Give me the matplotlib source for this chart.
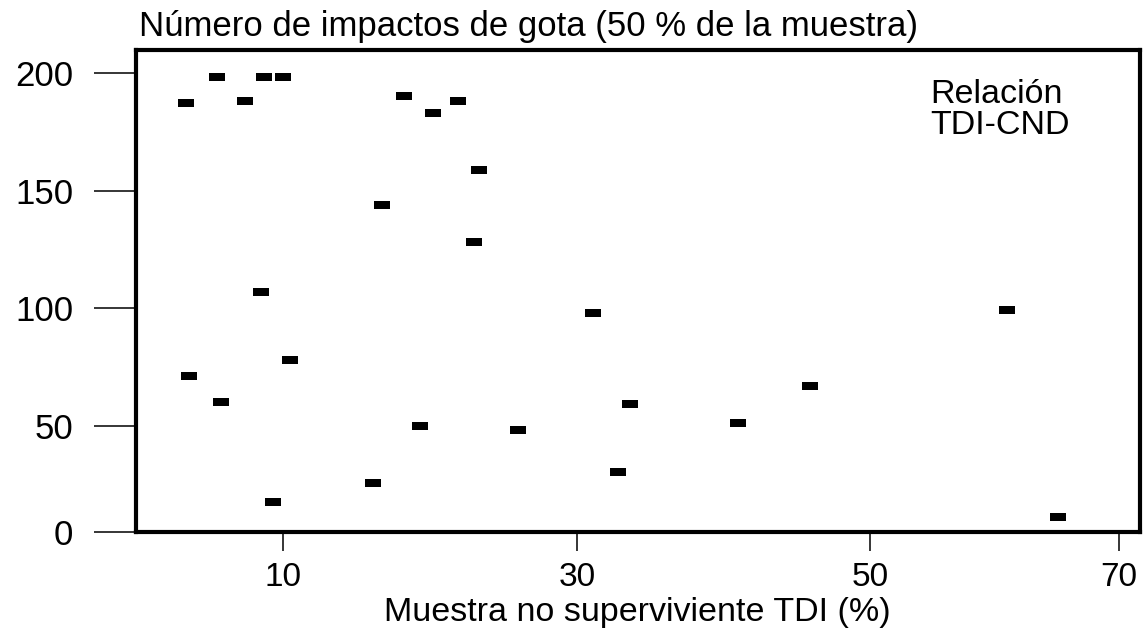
"""
Scatter: drop impacts vs. non-surviving TDI sample (TDI-CND relation).
"""
import matplotlib
matplotlib.use('Agg')
import matplotlib.pyplot as plt
import matplotlib.font_manager as fm
import numpy as np


def find_font(*names):
    available = {f.name for f in fm.fontManager.ttflist}
    for name in names:
        if name in available:
            return name
    return names[-1]


FONT = find_font('Liberation Sans', 'Arial', 'DejaVu Sans')
plt.rcParams['font.family'] = FONT

# ============================================================
# DATA
# ============================================================
tdi_pct = [3.4, 5.5, 7.4, 8.7, 10.0, 18.2, 20.2, 21.9, 23.3, 16.7,
           23.0, 8.5, 3.6, 5.8, 10.5, 9.3, 16.1, 19.3, 26.0, 31.1,
           33.6, 32.8, 41.0, 45.9, 61.0, 65.1]
impactos = [187, 198, 188, 198, 198, 190, 183, 188, 159, 144,
            128, 107, 71, 60, 78, 14, 23, 50, 48, 98,
            59, 28, 51, 67, 99, 7]

x_ticks = [10, 30, 50, 70]
y_ticks = [0, 50, 100, 150, 200]

# ============================================================
# AXIS CALIBRATION
# The printed axes are not evenly spaced (hand-drawn original),
# so use a piecewise-linear function scale through the tick marks.
# ============================================================
X_KNOTS = [-20, 0, 10, 30, 50, 70, 100]
X_WARP = [-294.5, 0, 147.25, 441.75, 734.25, 983.25, 1356.75]
Y_KNOTS = [-50, 0, 50, 100, 150, 200, 250]
Y_WARP = [-106, 0, 106, 223.7, 340.7, 459, 577.3]


def piecewise(src, dst):
    src = np.asarray(src, float)
    dst = np.asarray(dst, float)

    def fwd(v):
        return np.interp(v, src, dst)

    def inv(v):
        return np.interp(v, dst, src)
    return fwd, inv


# ============================================================
# FIGURE
# ============================================================
fig = plt.figure(figsize=(11.45, 6.31), dpi=100, facecolor='white')
ax = fig.add_axes([0.11856, 0.1574, 0.87686, 0.7634])

ax.set_xscale('function', functions=piecewise(X_KNOTS, X_WARP))
ax.set_yscale('function', functions=piecewise(Y_KNOTS, Y_WARP))

rect = [(-1, -0.46), (1, -0.46), (1, 0.46), (-1, 0.46), (-1, -0.46)]
ax.plot(tdi_pct, impactos, linestyle='none', marker=rect,
        markersize=11.8, markerfacecolor='black', markeredgewidth=0,
        color='black', clip_on=False)

ax.set_xlim(0, 71.69)
ax.set_ylim(0, 209.6)
ax.set_xticks(x_ticks)
ax.set_yticks(y_ticks)
ax.set_xticklabels([str(t) for t in x_ticks])
ax.set_yticklabels([str(t) for t in y_ticks])
ax.minorticks_off()

for spine in ax.spines.values():
    spine.set_linewidth(3.0)
    spine.set_color('black')

ax.tick_params(axis='y', direction='out', length=30, width=1.1,
               pad=15, labelsize=25, colors='black')
ax.tick_params(axis='x', direction='out', length=14, width=1.1,
               pad=8, labelsize=24, colors='black')

ax.set_xlabel('Muestra no superviviente TDI (%)', fontsize=24.5,
              labelpad=3)
ax.set_title('Número de impactos de gota (50 % de la muestra)',
             loc='left', fontsize=25, pad=10, x=0.003)

ax.text(0.791, 0.94, 'Relación\nTDI-CND', transform=ax.transAxes,
        fontsize=24.5, ha='left', va='top', linespacing=1.0)

fig.savefig('out.png', dpi=100, facecolor='white')
